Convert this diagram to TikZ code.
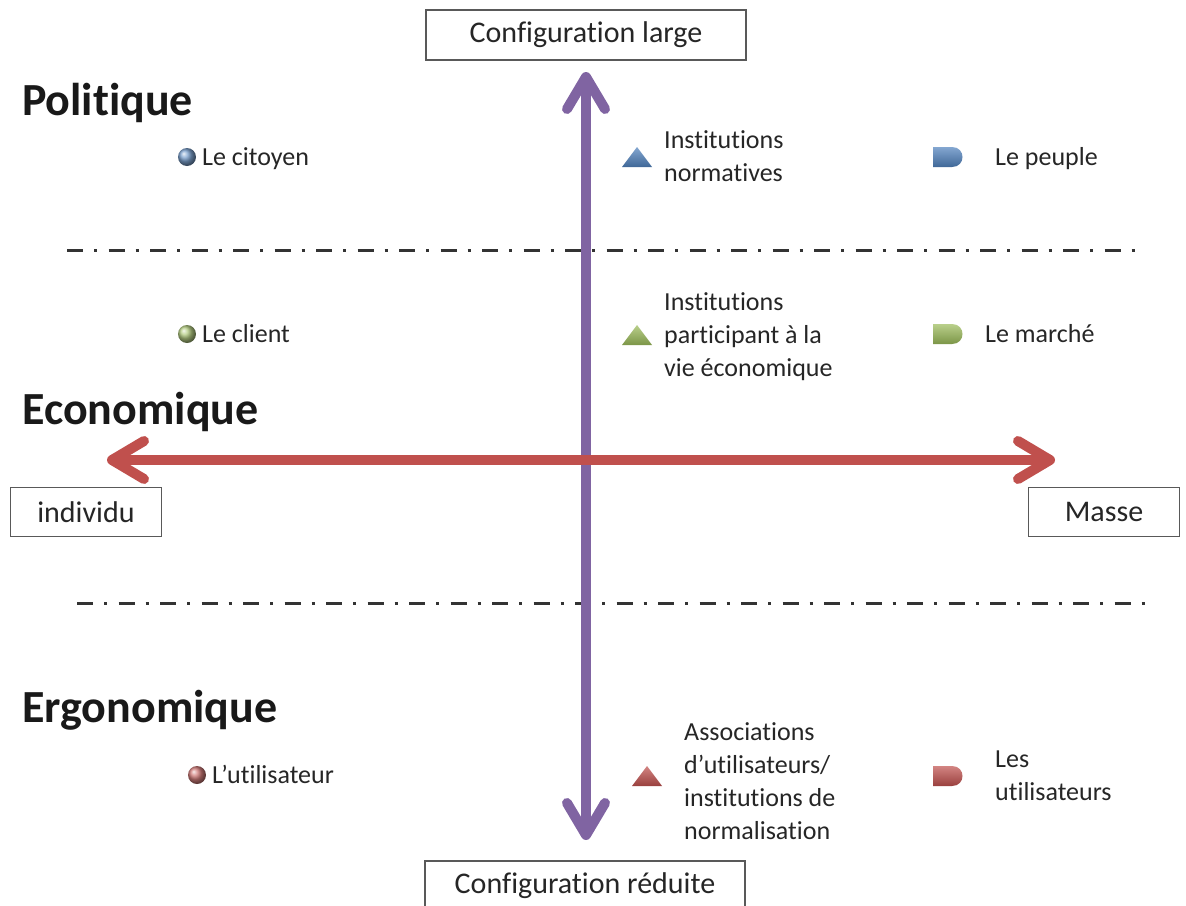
\documentclass[tikz,border=0pt]{standalone}
\usepackage{fontspec}
\setmainfont{Carlito}[RawFeature=-liga]
\usetikzlibrary{arrows.meta}

\definecolor{axispurple}{HTML}{8064A2}
\definecolor{axisred}{HTML}{C0504D}
\definecolor{polblue}{HTML}{4F81BD}
\definecolor{ecogreen}{HTML}{9BBB59}
\definecolor{ergored}{HTML}{C0504D}

\tikzset{
	itemtext/.style={font=\fontsize{26}{33}\selectfont, text=black!85, inner sep=0pt, align=left},
	endbox/.style={draw=black!65, line width=1.5pt, fill=white, minimum width=320pt, minimum height=50pt,
		font=\fontsize{30}{36}\selectfont, text=black!85},
	sidebox/.style={endbox, minimum width=151pt, minimum height=49pt},
	sectitle/.style={font=\fontsize{46}{52}\selectfont\bfseries, text=black!90, inner sep=0pt, anchor=base west},
	sepline/.style={black!80, line width=3pt, dash pattern=on 16pt off 11pt on 3pt off 11.5pt},
	axisarrow/.style={line width=10pt, line cap=round,
		{Straight Barb[length=32pt,width=38pt,round]}-{Straight Barb[length=32pt,width=38pt,round]}}
}

\begin{document}
\begin{tikzpicture}[x=1pt,y=-1pt]

	\useasboundingbox (0,0) rectangle (1186,905);

	\pgfmathsetmacro{\ballx}{187}
	\pgfmathsetmacro{\trix}{637}
	\pgfmathsetmacro{\dx}{933}

	% separators
	\coordinate (sepAl) at (67,250);
	\coordinate (sepAr) at (1137,250);
	\coordinate (sepBl) at (77,603);
	\coordinate (sepBr) at (1147,603);
	\draw[sepline] (sepAl) -- (sepAr);
	\draw[sepline] (sepBl) -- (sepBr);

	% end boxes
	\node[endbox] (large) at (586,35) {Configuration large};
	\node[endbox] (reduite) at (585,886) {Configuration réduite};
	\node[sidebox] (individu) at (86,512) {individu};
	\node[sidebox] (masse) at (1104,512) {Masse};

	% axes
	\coordinate (vtop) at (586,72);
	\coordinate (vbot) at (586,840);
	\coordinate (hleft) at (107,460);
	\coordinate (hright) at (1055,460);
	\draw[axisarrow, axispurple] (vtop) -- (vbot);
	\draw[axisarrow, axisred] (hleft) -- (hright);

	% titles
	\node[sectitle] (tpol) at (22,115) {Politique};
	\node[sectitle] (teco) at (22,424) {Economique};
	\node[sectitle] (tergo) at (22,722) {Ergonomique};

	% balls
	\shade[ball color=polblue!75!white] (\ballx,157) circle (9);
	\shade[ball color=ecogreen!75!white] (\ballx,334) circle (9);
	\shade[ball color=ergored!75!white] (\ballx+10,775) circle (9);

	% triangles
	\shade[top color=polblue!70!white, bottom color=polblue!80!black]
		(\trix-15,167) -- (\trix,147) -- (\trix+15,167) -- cycle;
	\shade[top color=ecogreen!70!white, bottom color=ecogreen!80!black]
		(\trix-15,345) -- (\trix,325) -- (\trix+15,345) -- cycle;
	\shade[top color=ergored!70!white, bottom color=ergored!80!black]
		(\trix-5,786) -- (\trix+10,766) -- (\trix+25,786) -- cycle;

	% rounded markers
	\shade[top color=polblue!70!white, bottom color=polblue!80!black]
		(\dx,147) -- (\dx+19,147) .. controls (\dx+33,147) and (\dx+33,167) .. (\dx+19,167) -- (\dx,167) -- cycle;
	\shade[top color=ecogreen!70!white, bottom color=ecogreen!80!black]
		(\dx,324) -- (\dx+19,324) .. controls (\dx+33,324) and (\dx+33,344) .. (\dx+19,344) -- (\dx,344) -- cycle;
	\shade[top color=ergored!70!white, bottom color=ergored!80!black]
		(\dx,766) -- (\dx+19,766) .. controls (\dx+33,766) and (\dx+33,786) .. (\dx+19,786) -- (\dx,786) -- cycle;

	% texts
	\node[itemtext, anchor=base west] (citoyen) at (202,165) {Le citoyen};
	\node[itemtext, anchor=west] (normatives) at (664,156) {Institutions\\normatives};
	\node[itemtext, anchor=base west] (peuple) at (995,165) {Le peuple};
	\node[itemtext, anchor=base west] (client) at (202,342) {Le client};
	\node[itemtext, anchor=west] (participant) at (664,337) {Institutions\\participant à la\\vie économique};
	\node[itemtext, anchor=base west] (marche) at (985,342) {Le marché};
	\node[itemtext, anchor=base west] (utilisateur) at (212,783) {L’utilisateur};
	\node[itemtext, anchor=west] (associations) at (684,781) {Associations\\d’utilisateurs/\\institutions de\\normalisation};
	\node[itemtext, anchor=west] (utilisateurs) at (995,776) {Les\\utilisateurs};

\end{tikzpicture}
\end{document}
